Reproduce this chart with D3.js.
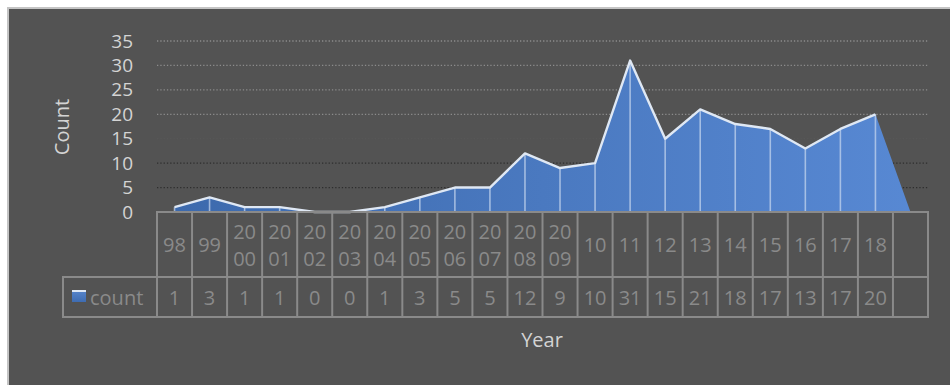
<!DOCTYPE html>
<html>
<head>
<meta charset="utf-8">
<script src="https://cdn.jsdelivr.net/npm/d3@7"></script>
<style>
  body { margin: 0; background: #ffffff; }
  svg { display: block; font-family: "Open Sans", sans-serif; }
</style>
</head>
<body>
<svg id="chart" width="950" height="385"></svg>
<script>
// data
var years = ["98", "99", "2000", "2001", "2002", "2003", "2004", "2005", "2006", "2007",
             "2008", "2009", "10", "11", "12", "13", "14", "15", "16", "17", "18", ""];
var counts = [1, 3, 1, 1, 0, 0, 1, 3, 5, 5, 12, 9, 10, 31, 15, 21, 18, 17, 13, 17, 20, null];
var yTicks = [0, 5, 10, 15, 20, 25, 30, 35];
var seriesName = "count";

var svg = d3.select("#chart");
var width = 950, height = 385;

var plotLeft = 157, plotRight = 928;
var plotTop = 41, plotBottom = 212;
var row1Bottom = 277, row2Bottom = 317;
var tableLeft = 63;

// background box
svg.append("rect")
   .attr("x", 8).attr("y", 8)
   .attr("width", width + 10).attr("height", height + 10)
   .attr("fill", "#535353")
   .attr("stroke", "#c4c4c4")
   .attr("stroke-width", 2);

var defs = svg.append("defs");
var grad = defs.append("linearGradient")
   .attr("id", "areaGrad")
   .attr("gradientUnits", "userSpaceOnUse")
   .attr("x1", plotLeft).attr("x2", plotRight)
   .attr("y1", 0).attr("y2", 0);
grad.append("stop").attr("offset", "0%").attr("stop-color", "#3c69ac");
grad.append("stop").attr("offset", "100%").attr("stop-color", "#5889d4");

var keyGrad = defs.append("linearGradient")
   .attr("id", "keyGrad")
   .attr("x1", 0).attr("x2", 0).attr("y1", 0).attr("y2", 1);
keyGrad.append("stop").attr("offset", "0%").attr("stop-color", "#5886cc");
keyGrad.append("stop").attr("offset", "100%").attr("stop-color", "#3e6cb2");

var xScale = d3.scaleBand()
               .domain(d3.range(years.length))
               .range([plotLeft, plotRight]);

var yScale = d3.scaleLinear()
               .domain([0, 35])
               .range([plotBottom, plotTop]);

function cx(i) { return xScale(i) + xScale.bandwidth() / 2; }

// gridlines (the lower ones come out darker in the reference, 15 is barely there)
function gridColor(v) {
    if (v >= 20) return "#8c8c8c";
    if (v == 15) return "#575757";
    return "#2e2e2e";
}

svg.append("g")
   .selectAll("line")
   .data(yTicks.filter(function(d) { return d > 0; }))
   .enter()
   .append("line")
   .attr("x1", plotLeft).attr("x2", plotRight)
   .attr("y1", function(d) { return yScale(d); })
   .attr("y2", function(d) { return yScale(d); })
   .attr("stroke", gridColor)
   .attr("stroke-width", 1.3)
   .attr("stroke-dasharray", "1.3,2");

// y tick labels
var yAxis = d3.axisLeft(yScale)
              .tickValues(yTicks)
              .tickSize(0)
              .tickPadding(0);

var yg = svg.append("g")
   .attr("transform", "translate(" + 133 + ",0)")
   .call(yAxis);
yg.select(".domain").remove();
yg.selectAll("text")
  .attr("fill", "#d4d4d4")
  .style("font-size", "19px")
  .style("font-family", "'Open Sans', sans-serif");

// area
var pts = counts.map(function(d, i) { return {i: i, v: d == null ? 0 : d}; });

var area = d3.area()
             .x(function(d) { return cx(d.i); })
             .y0(plotBottom)
             .y1(function(d) { return yScale(d.v); });

svg.append("path")
   .datum(pts)
   .attr("d", area)
   .attr("fill", "url(#areaGrad)");

// drop lines
svg.append("g")
   .selectAll("line")
   .data(pts.filter(function(d) { return d.v > 0; }))
   .enter()
   .append("line")
   .attr("x1", function(d) { return cx(d.i); })
   .attr("x2", function(d) { return cx(d.i); })
   .attr("y1", function(d) { return yScale(d.v); })
   .attr("y2", plotBottom)
   .attr("stroke", "#c9d9f0")
   .attr("stroke-opacity", 0.7)
   .attr("stroke-width", 1.6);

// top outline
var line = d3.line()
             .x(function(d) { return cx(d.i); })
             .y(function(d) { return yScale(d.v); });

svg.append("path")
   .datum(pts.slice(0, counts.length - 1))
   .attr("d", line)
   .attr("fill", "none")
   .attr("stroke", "#dfe8f4")
   .attr("stroke-width", 2.4)
   .attr("stroke-linejoin", "round");

// data table
var tableColor = "#8a8a8a";
var table = svg.append("g");

table.append("rect")
   .attr("x", plotLeft).attr("y", plotBottom)
   .attr("width", plotRight - plotLeft).attr("height", row1Bottom - plotBottom)
   .attr("fill", "none").attr("stroke", tableColor).attr("stroke-width", 2);

table.append("rect")
   .attr("x", tableLeft).attr("y", row1Bottom)
   .attr("width", plotRight - tableLeft).attr("height", row2Bottom - row1Bottom)
   .attr("fill", "none").attr("stroke", tableColor).attr("stroke-width", 2);

table.selectAll("line.col")
   .data(d3.range(1, years.length))
   .enter()
   .append("line")
   .attr("class", "col")
   .attr("x1", function(d) { return xScale(d); })
   .attr("x2", function(d) { return xScale(d); })
   .attr("y1", plotBottom).attr("y2", row2Bottom)
   .attr("stroke", tableColor).attr("stroke-width", 2);

table.append("line")
   .attr("x1", plotLeft).attr("x2", plotLeft)
   .attr("y1", row1Bottom).attr("y2", row2Bottom)
   .attr("stroke", tableColor).attr("stroke-width", 2);

// year headers, 4-digit years wrap onto two lines
var headers = table.selectAll("text.year")
   .data(years)
   .enter()
   .append("text")
   .attr("class", "year")
   .attr("text-anchor", "middle")
   .attr("fill", tableColor)
   .style("font-size", "20px");

headers.each(function(d, i) {
    var t = d3.select(this);
    if (d.length > 2) {
        t.append("tspan").attr("x", cx(i)).attr("y", 239).text(d.slice(0, 2));
        t.append("tspan").attr("x", cx(i)).attr("y", 266).text(d.slice(2));
    } else {
        t.append("tspan").attr("x", cx(i)).attr("y", 252).text(d);
    }
});

table.selectAll("text.val")
   .data(counts)
   .enter()
   .append("text")
   .attr("class", "val")
   .attr("x", function(d, i) { return cx(i); })
   .attr("y", 305)
   .attr("text-anchor", "middle")
   .attr("fill", tableColor)
   .style("font-size", "20px")
   .text(function(d) { return d == null ? "" : d; });

// legend key in the table
table.append("rect")
   .attr("x", 72).attr("y", 290)
   .attr("width", 14).attr("height", 12)
   .attr("fill", "url(#keyGrad)");
table.append("line")
   .attr("x1", 72).attr("x2", 86)
   .attr("y1", 291).attr("y2", 291)
   .attr("stroke", "#dfe8f4").attr("stroke-width", 2);

table.append("text")
   .attr("x", 90).attr("y", 305)
   .attr("fill", tableColor)
   .style("font-size", "20px")
   .text(seriesName);

// axis titles
svg.append("text")
   .attr("transform", "translate(69,127) rotate(-90)")
   .attr("text-anchor", "middle")
   .attr("fill", "#d4d4d4")
   .style("font-size", "20px")
   .text("Count");

svg.append("text")
   .attr("x", 542).attr("y", 347)
   .attr("text-anchor", "middle")
   .attr("fill", "#d4d4d4")
   .style("font-size", "20px")
   .text("Year");
</script>
</body>
</html>
